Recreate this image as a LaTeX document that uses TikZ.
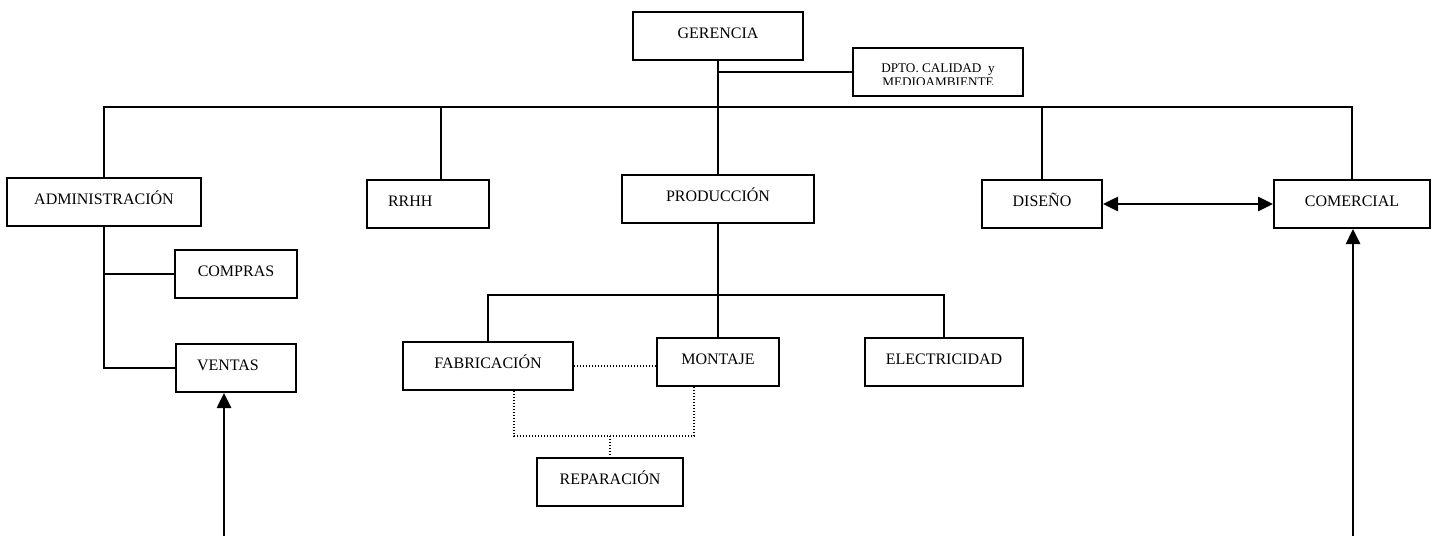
\documentclass[tikz,border=0pt]{standalone}
\usepackage{fontspec}
\setmainfont{Liberation Serif}
\usetikzlibrary{arrows.meta}
\begin{document}
\begin{tikzpicture}[x=1pt,y=-1pt,
  box/.style={draw, line width=2pt, inner sep=0pt, text height=10pt, text depth=5.5pt,
    minimum height=48pt, font=\fontsize{16}{18}\selectfont},
  conn/.style={line width=2pt},
  dots/.style={line width=1.6pt, dash pattern=on 1.4pt off 1.6pt},
  arr/.style={line width=2.6pt, -{Triangle[length=15pt,width=14pt]}},
  darr/.style={line width=2.6pt, {Triangle[length=15pt,width=14pt]}-{Triangle[length=15pt,width=14pt]}},
  smalltext/.style={inner sep=0pt, anchor=base, font=\fontsize{13.2}{14}\selectfont}
]
\useasboundingbox (0,0) rectangle (1437,536);

% boxes
\node[box, minimum width=170pt] (ger) at (718,36) {GERENCIA};
\node[box, minimum width=170pt] (dpto) at (938,72) {};
\node[box, minimum width=194pt] (adm) at (104,202) {ADMINISTRACIÓN};
\node[box, minimum width=122pt, text width=80pt, inner xsep=21pt, align=left] (rrhh) at (428,204) {RRHH};
\node[box, minimum width=192pt] (prod) at (718,199) {PRODUCCIÓN};
\node[box, minimum width=120pt] (dis) at (1042,204) {DISEÑO};
\node[box, minimum width=156pt] (com) at (1352,204) {COMERCIAL};
\node[box, minimum width=122pt] (compras) at (236,274) {COMPRAS};
\node[box, minimum width=120pt, text width=78pt, inner xsep=21pt, align=left] (ventas) at (236,368) {VENTAS};
\node[box, minimum width=170pt] (fab) at (488,366) {FABRICACIÓN};
\node[box, minimum width=122pt] (mon) at (718,362) {MONTAJE};
\node[box, minimum width=158pt] (elec) at (944,362) {ELECTRICIDAD};
\node[box, minimum width=146pt] (rep) at (610,482) {REPARACIÓN};

% clipped two-line text of DPTO box
\begin{scope}
  \clip (854,49) rectangle (1022,84);
  \node[smalltext] (dptoa) at (938,72) {DPTO. CALIDAD\ \ y};
  \node[smalltext] (dptob) at (938,86.5) {MEDIOAMBIENTE};
\end{scope}

% helper coordinates
\coordinate (bus) at (0,107);
\coordinate (hub) at (0,295);
\coordinate (dl) at (514,436);
\coordinate (dr) at (694,436);
\coordinate (vb) at (224,536);
\coordinate (cb) at (1353,536);

% solid connectors
\draw[conn] (ger.south) -- (ger.south |- prod.north);
\draw[conn] (ger.south |- dpto.west) -- (dpto.west);
\draw[conn] (adm.north) -- (adm.north |- bus) -- (com.north |- bus) -- (com.north);
\draw[conn] ([xshift=13pt]rrhh.north) -- ([xshift=13pt]rrhh.north |- bus);
\draw[conn] (dis.north) -- (dis.north |- bus);
\draw[conn] (adm.south) |- (ventas.west);
\draw[conn] (adm.south |- compras.west) -- (compras.west);
\draw[conn] (prod.south) -- (mon.north);
\draw[conn] (fab.north) -- (fab.north |- hub) -- (elec.north |- hub) -- (elec.north);

% dotted connectors
\draw[dots] (fab.east) -- (fab.east -| mon.west);
\draw[dots] (dl |- fab.south) -- (dl) -- (dr) -- (dr |- mon.south);
\draw[dots] (rep.north |- dl) -- (rep.north);

% arrows
\draw[darr] (dis.east) -- (com.west);
\draw[arr] (vb) -- (vb |- ventas.south);
\draw[arr] (cb) -- (cb |- com.south);
\end{tikzpicture}
\end{document}
